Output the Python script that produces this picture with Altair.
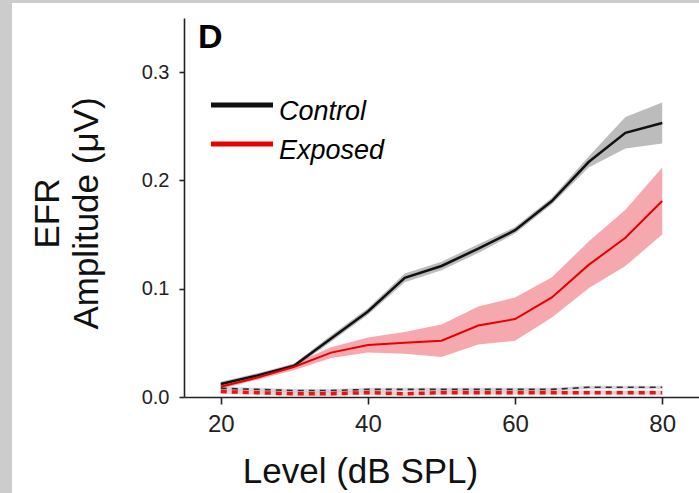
import altair as alt
import pandas as pd

# ---- data ----
levels = [20, 25, 30, 35, 40, 45, 50, 55, 60, 65, 70, 75, 80]
groups = ["Control", "Exposed"]

control_mean = [0.012, 0.020, 0.029, 0.054, 0.079, 0.110, 0.121, 0.137, 0.154, 0.181, 0.217, 0.244, 0.253]
control_sem = [0.002, 0.002, 0.002, 0.003, 0.003, 0.004, 0.004, 0.004, 0.003, 0.003, 0.005, 0.0145, 0.019]
exposed_mean = [0.0095, 0.018, 0.028, 0.041, 0.048, 0.050, 0.052, 0.066, 0.072, 0.092, 0.122, 0.147, 0.181]
exposed_sem = [0.002, 0.002, 0.003, 0.005, 0.007, 0.010, 0.015, 0.0175, 0.020, 0.0185, 0.0215, 0.026, 0.031]

control_noise = [0.008, 0.007, 0.006, 0.006, 0.007, 0.007, 0.007, 0.007, 0.007, 0.007, 0.009, 0.009, 0.009]
control_noise_sem = [0.0015] * 13
exposed_noise = [0.005, 0.004, 0.003, 0.003, 0.004, 0.003, 0.004, 0.004, 0.004, 0.004, 0.004, 0.004, 0.004]
exposed_noise_sem = [0.002] * 13

x_ticks = [20, 40, 60, 80]
y_ticks = [0.0, 0.1, 0.2, 0.3]


def frame(group, kind, mean, sem):
    return pd.DataFrame({
        "level": levels,
        "group": group,
        "kind": kind,
        "mean": mean,
        "lo": [m - s for m, s in zip(mean, sem)],
        "hi": [m + s for m, s in zip(mean, sem)],
    })


df = pd.concat([
    frame("Control", "signal", control_mean, control_sem),
    frame("Exposed", "signal", exposed_mean, exposed_sem),
    frame("Control", "noise", control_noise, control_noise_sem),
    frame("Exposed", "noise", exposed_noise, exposed_noise_sem),
], ignore_index=True)

FONT = "Liberation Sans"

x_enc = alt.X("level:Q", scale=alt.Scale(domain=[15, 85], nice=False, zero=False),
              axis=alt.Axis(values=x_ticks, format="d", title="Level (dB SPL)",
                            titleX=176, titleY=85, titleAlign="center",
                            titleBaseline="alphabetic", titleAngle=0))
y_enc = alt.Y("mean:Q", scale=alt.Scale(domain=[0, 0.35], nice=False),
              axis=alt.Axis(values=y_ticks, format=".1f", title=["EFR", "Amplitude (μV)"],
                            titleX=-126, titleY=195, titleAlign="center",
                            titleBaseline="alphabetic", titleAngle=-90,
                            titleLineHeight=39))

band_color = alt.Color("group:N", scale=alt.Scale(domain=groups, range=["#8f8f8f", "#ee6f78"]), legend=None)
line_color = alt.Color("group:N", scale=alt.Scale(domain=groups, range=["#111111", "#e60000"]), legend=None)
noise_color = alt.Color("group:N", scale=alt.Scale(domain=groups, range=["#333333", "#ec6f76"]), legend=None)

base = alt.Chart(df)

bands = base.transform_filter(alt.datum.kind == "signal").mark_area(opacity=0.6).encode(
    x=x_enc, y=alt.Y("lo:Q"), y2="hi:Q", fill=band_color, detail="group:N")

noise_bands = base.transform_filter(alt.datum.kind == "noise").mark_area(opacity=0.35).encode(
    x=x_enc, y=alt.Y("lo:Q"), y2="hi:Q", fill=band_color, detail="group:N")

control_line = base.transform_filter(
    (alt.datum.kind == "signal") & (alt.datum.group == "Control")
).mark_line(strokeWidth=2.5).encode(x=x_enc, y=y_enc, stroke=line_color)

exposed_line = base.transform_filter(
    (alt.datum.kind == "signal") & (alt.datum.group == "Exposed")
).mark_line(strokeWidth=2).encode(x=x_enc, y=y_enc, stroke=line_color)

control_noise_line = base.transform_filter(
    (alt.datum.kind == "noise") & (alt.datum.group == "Control")
).mark_line(strokeWidth=1.6, strokeDash=[6, 5], opacity=0.85).encode(
    x=x_enc, y=y_enc, stroke=noise_color)

exposed_noise_line = base.transform_filter(
    (alt.datum.kind == "noise") & (alt.datum.group == "Exposed")
).mark_line(strokeWidth=3.5, strokeDash=[6, 5], opacity=0.9).encode(
    x=x_enc, y=y_enc, stroke=noise_color)

# decorative grey frame strips (left and top) as in the reference figure
one = pd.DataFrame({"a": [0]})
frame_left = alt.Chart(one).mark_rect(color="#cccccc").encode(
    x=alt.value(-184), x2=alt.value(-172), y=alt.value(-18), y2=alt.value(475))
frame_top = alt.Chart(one).mark_rect(color="#cccccc").encode(
    x=alt.value(-184), x2=alt.value(515), y=alt.value(-18), y2=alt.value(-15))

panel = alt.Chart(pd.DataFrame({"t": ["D"]})).mark_text(
    font=FONT, fontWeight="bold", fontSize=34, align="left", baseline="alphabetic", color="#000"
).encode(text="t:N", x=alt.value(14), y=alt.value(30))

leg_df = pd.DataFrame({"series": groups})
legend_layers = []
for i, g in enumerate(groups):
    yy = 87 + 39 * i
    legend_layers.append(
        alt.Chart(leg_df).transform_filter(alt.datum.series == g).mark_rule(strokeWidth=5).encode(
            x=alt.value(27), x2=alt.value(89), y=alt.value(yy),
            stroke=alt.Stroke("series:N", scale=alt.Scale(domain=groups, range=["#111111", "#e60000"]), legend=None))
    )
    legend_layers.append(
        alt.Chart(leg_df).transform_filter(alt.datum.series == g).mark_text(
            font=FONT, fontStyle="italic", fontSize=27, align="left", baseline="alphabetic", color="#000"
        ).encode(text="series:N", x=alt.value(95), y=alt.value(yy + 15))
    )

chart = alt.layer(
    frame_left, frame_top,
    bands, noise_bands, control_line, exposed_line, control_noise_line, exposed_noise_line,
    panel, *legend_layers
).properties(
    width=515, height=379,
    padding={"left": 184, "top": 18, "right": 0, "bottom": 96},
    autosize=alt.AutoSizeParams(type="none"),
    background="white",
).configure_view(stroke=None).configure_axis(
    grid=False, domainColor="#222222", domainWidth=1.6, tickColor="#222222", tickWidth=1.6,
    labelFont=FONT, titleFont=FONT, labelColor="#222222", titleColor="#111111",
    titleFontWeight="normal", titleFontSize=35,
).configure_axisX(
    tickSize=7, labelFontSize=24, labelPadding=8,
).configure_axisY(
    tickSize=5, labelFontSize=20, labelPadding=10,
)

chart.save("out.html", embed_options={"renderer": "svg", "actions": False})
